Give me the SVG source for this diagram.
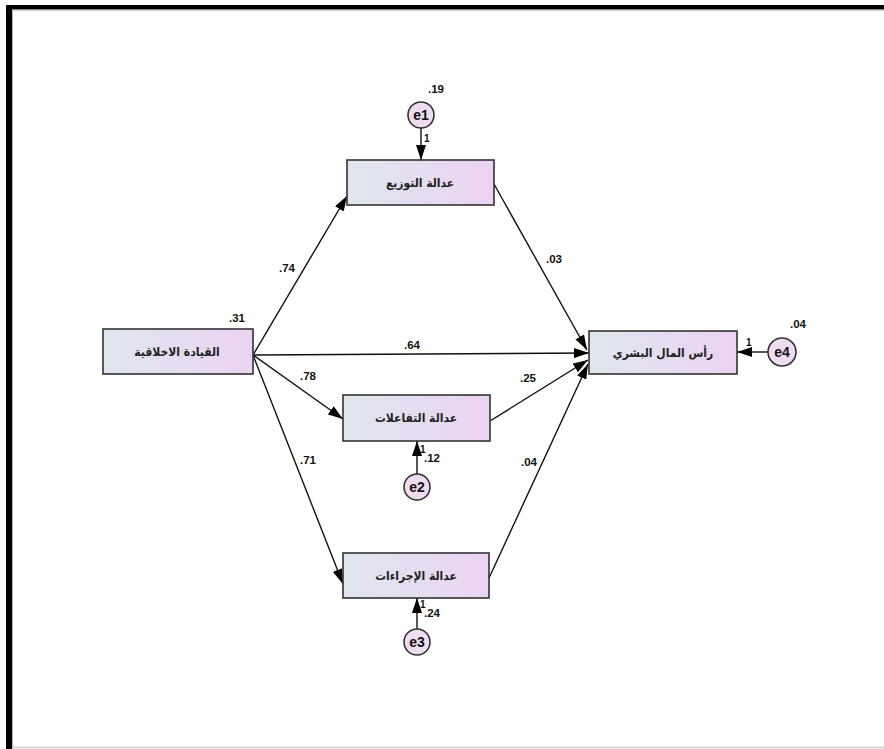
<svg xmlns="http://www.w3.org/2000/svg" width="884" height="749" viewBox="0 0 884 749">
<style>
.box{stroke:#333;stroke-width:1.6;fill:url(#g)}
.err{stroke:#333;stroke-width:1.6;fill:#efdcf0}
.lbl{font-family:"DejaVu Sans Condensed","DejaVu Sans",sans-serif;font-weight:bold;font-size:12px;fill:#222;text-anchor:middle}
.num{font-family:"Liberation Sans",Arial,sans-serif;font-weight:bold;font-size:11.5px;fill:#111}
.one{font-family:"Liberation Sans",Arial,sans-serif;font-weight:bold;font-size:10px;fill:#111}
.en{font-family:"Liberation Sans",Arial,sans-serif;font-weight:bold;font-size:14px;fill:#111;text-anchor:middle}
.c{stroke:#111;stroke-width:1.4;fill:none;marker-end:url(#ah)}
</style>
<defs>
<linearGradient id="g" x1="0" y1="0" x2="1" y2="0">
<stop offset="0" stop-color="#dfe7ee"/>
<stop offset="1" stop-color="#ecd3f2"/>
</linearGradient>
<marker id="ah" viewBox="0 0 15 10" refX="15" refY="5" markerWidth="15" markerHeight="10" markerUnits="userSpaceOnUse" orient="auto">
<path d="M0,0 L15,5 L0,10 z" fill="#000"/>
</marker>
</defs>
<rect x="0" y="0" width="884" height="749" fill="#fff"/>
<rect x="6" y="5" width="878" height="4.5" fill="#000"/>
<rect x="6" y="5" width="6" height="744" fill="#000"/>
<line x1="12" y1="10" x2="884" y2="10" stroke="#999" stroke-width="1"/>
<line x1="12.5" y1="10" x2="12.5" y2="749" stroke="#bbb" stroke-width="1"/>
<line x1="12" y1="747.5" x2="884" y2="747.5" stroke="#ccc" stroke-width="1.5"/>

<g id="connectors">
<line class="c" x1="253" y1="355" x2="347" y2="196"/>
<line class="c" x1="253" y1="355" x2="589" y2="353"/>
<line class="c" x1="253" y1="355" x2="343" y2="419"/>
<line class="c" x1="253" y1="355" x2="343" y2="584"/>
<line class="c" x1="494" y1="184" x2="587" y2="350"/>
<line class="c" x1="490" y1="421" x2="588" y2="360"/>
<line class="c" x1="489" y1="578" x2="588" y2="364"/>
<line class="c" x1="421" y1="128" x2="421" y2="160"/>
<line class="c" x1="417" y1="474" x2="417" y2="441"/>
<line class="c" x1="417" y1="629" x2="417" y2="598"/>
<line class="c" x1="768" y1="352" x2="737" y2="352"/>
<text class="num" x="279" y="272">.74</text>
<text class="num" x="404" y="349">.64</text>
<text class="num" x="300" y="380">.78</text>
<text class="num" x="300" y="464">.71</text>
<text class="num" x="546" y="263">.03</text>
<text class="num" x="520" y="382">.25</text>
<text class="num" x="521" y="466">.04</text>
<text class="one" x="424" y="142">1</text>
<text class="one" x="420" y="453">1</text>
<text class="one" x="420" y="608">1</text>
<text class="one" x="746" y="346">1</text>
</g>

<g id="n_lead">
<rect class="box" x="103" y="329" width="150" height="45"/>
<text class="lbl" x="177" y="356">القيادة الاخلاقية</text>
<text class="num" x="229" y="322">.31</text>
</g>
<g id="n_dist">
<rect class="box" x="347" y="160" width="147" height="45"/>
<text class="lbl" x="420" y="187">عدالة التوزيع</text>
</g>
<g id="n_inter">
<rect class="box" x="343" y="395" width="147" height="46"/>
<text class="lbl" x="416" y="422">عدالة التفاعلات</text>
</g>
<g id="n_proc">
<rect class="box" x="343" y="553" width="146" height="45"/>
<text class="lbl" x="416" y="580">عدالة الإجراءات</text>
</g>
<g id="n_hc">
<rect class="box" x="589" y="331" width="148" height="43"/>
<text class="lbl" x="663" y="357">رأس المال البشري</text>
</g>
<g id="e1">
<circle class="err" cx="421" cy="115" r="13"/>
<text class="en" x="421" y="120">e1</text>
<text class="num" x="428" y="93">.19</text>
</g>
<g id="e2">
<circle class="err" cx="417" cy="487" r="13"/>
<text class="en" x="417" y="492">e2</text>
<text class="num" x="424" y="462">.12</text>
</g>
<g id="e3">
<circle class="err" cx="417" cy="642" r="13"/>
<text class="en" x="417" y="647">e3</text>
<text class="num" x="424" y="617">.24</text>
</g>
<g id="e4">
<circle class="err" cx="782" cy="352" r="14"/>
<text class="en" x="782" y="357">e4</text>
<text class="num" x="790" y="328">.04</text>
</g>
</svg>
